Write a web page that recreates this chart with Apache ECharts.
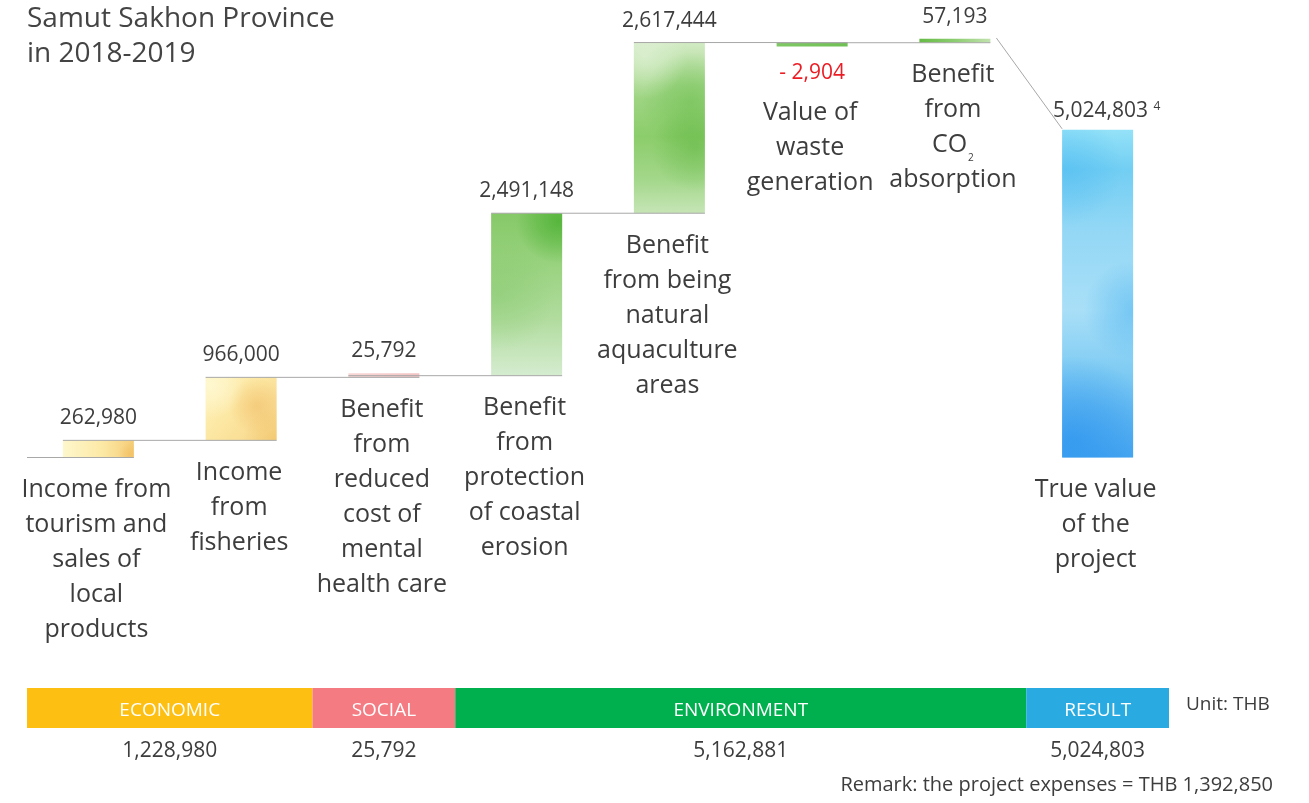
<!DOCTYPE html>
<html>
<head>
<meta charset="utf-8">
<title>Samut Sakhon Province in 2018-2019</title>
<script src="https://cdn.jsdelivr.net/npm/echarts@6/dist/echarts.min.js"></script>
<style>
  html, body { margin: 0; padding: 0; background: #ffffff; }
  #chart { width: 1309px; height: 803px; }
</style>
</head>
<body>
<div id="chart"></div>
<script>
// ---- data -----------------------------------------------------------
const categories = [
  'Income from\ntourism and\nsales of\nlocal\nproducts',
  'Income\nfrom\nfisheries',
  'Benefit\nfrom\nreduced\ncost of\nmental\nhealth care',
  'Benefit\nfrom\nprotection\nof coastal\nerosion',
  'Benefit\nfrom being\nnatural\naquaculture\nareas',
  'Value of\nwaste\ngeneration',
  'Benefit\nfrom\nCO{sub|2}\nabsorption',
  'True value\nof the\nproject'
];
const changes = [262980, 966000, 25792, 2491148, 2617444, -2904, 57193];
const trueValue = 5024803;
const projectExpenses = 1392850;

const groupNames = ['ECONOMIC', 'SOCIAL', 'ENVIRONMENT', 'RESULT'];
const groupFirst = [0, 2, 3, 7];
const groupLast = [1, 2, 6, 7];
const groupTotals = [1228980, 25792, 5162881, 5024803];

// ---- running totals for the waterfall --------------------------------
const starts = [];
const ends = [];
let running = 0;
changes.forEach(function (c) {
  starts.push(running);
  running += c;
  ends.push(running);
});
starts.push(0);
ends.push(trueValue);
const peak = Math.max.apply(null, ends);

const stepData = categories.map(function (_, i) { return [i, starts[i], ends[i]]; });
const groupData = groupNames.map(function (_, g) { return [groupFirst[g], groupLast[g], groupTotals[g]]; });

// ---- styling ---------------------------------------------------------
const FONT = '"Open Sans", "Noto Sans", sans-serif';
const TEXT = '#3d3d3d';
const LINE = '#a8a8a8';
const BAR_W = 71;
const MIN_H = 4;

function lin(x2, y2, stops) {
  return {
    type: 'linear', x: 0, y: 0, x2: x2, y2: y2,
    colorStops: stops.map(function (s) { return { offset: s[0], color: s[1] }; })
  };
}
// watercolour-like fills: a base wash plus soft blotches [x, y, r, r, g, b, alpha]
const paints = [
  { base: lin(1, 0, [[0, '#fef7cc'], [0.55, '#fce9a6'], [1, '#f5cd78']]),
    spots: [[0.95, 0.8, 0.7, 240, 180, 80, 0.45]] },
  { base: lin(1, 1, [[0, '#fff5c2'], [0.45, '#fce7a2'], [1, '#f6d489']]),
    spots: [[0.72, 0.45, 0.45, 238, 178, 88, 0.45], [0.98, 0.98, 0.5, 240, 190, 90, 0.45], [0.1, 0.15, 0.5, 255, 250, 220, 0.6]] },
  { base: lin(1, 0, [[0, '#f8d6d5'], [1, '#f3c3c3']]),
    spots: [] },
  { base: lin(0, 1, [[0, '#86c968'], [0.3, '#98d27e'], [0.65, '#b1dc9e'], [1, '#d5ecd0']]),
    spots: [[0.95, 0.05, 0.6, 70, 175, 45, 0.75], [0.1, 0.5, 0.8, 120, 195, 95, 0.35]] },
  { base: lin(0, 1, [[0, '#d2eac4'], [0.25, '#a4d78a'], [0.55, '#8ccd6b'], [0.8, '#a3d78a'], [1, '#c6e5b6']]),
    spots: [[0.8, 0.35, 0.7, 95, 185, 65, 0.45], [0.85, 0.62, 0.6, 90, 180, 60, 0.45], [0.15, 0.08, 0.6, 230, 244, 222, 0.6]] },
  { base: lin(1, 0, [[0, '#7fc865'], [1, '#6fc054']]),
    spots: [] },
  { base: lin(1, 0, [[0, '#66bb45'], [0.5, '#8ccd70'], [1, '#c2e2ae']]),
    spots: [] },
  { base: lin(0, 1, [[0, '#94e2f8'], [0.12, '#72cef3'], [0.3, '#92d7f5'], [0.55, '#a9dff7'], [0.75, '#7ccaf3'], [1, '#4aa8f0']]),
    spots: [[0.15, 0.95, 1.2, 40, 145, 238, 0.65], [1.0, 0.55, 0.7, 55, 170, 240, 0.45], [0.05, 0.12, 0.8, 55, 175, 240, 0.35]] }
];
const groupColors = ['#fdbf12', '#f47b82', '#00b04f', '#29abe2'];

const fmt = function (v) { return Math.abs(v).toLocaleString('en-US'); };

function blotch(sp) {
  const rgb = sp[3] + ',' + sp[4] + ',' + sp[5];
  return {
    type: 'radial', x: sp[0], y: sp[1], r: sp[2],
    colorStops: [
      { offset: 0, color: 'rgba(' + rgb + ',' + sp[6] + ')' },
      { offset: 0.5, color: 'rgba(' + rgb + ',' + (sp[6] * 0.55) + ')' },
      { offset: 1, color: 'rgba(' + rgb + ',0)' }
    ]
  };
}

// ---- waterfall steps -------------------------------------------------
function renderStep(params, api) {
  const i = api.value(0);
  const s = api.value(1);
  const e = api.value(2);
  const band = api.size([1, 0])[0];
  const pS = api.coord([i, s]);
  const pE = api.coord([i, e]);
  const cx = pS[0];
  const left = cx - BAR_W / 2;
  const right = cx + BAR_W / 2;
  let top = Math.min(pS[1], pE[1]);
  let bottom = Math.max(pS[1], pE[1]);
  if (bottom - top < MIN_H) {
    if (e >= s) top = bottom - MIN_H; else bottom = top + MIN_H;
  }
  const last = i === categories.length - 1;
  const shape = { x: left, y: top, width: BAR_W, height: bottom - top };
  const children = [{ type: 'rect', shape: shape, style: { fill: paints[i].base } }];
  paints[i].spots.forEach(function (sp) {
    children.push({ type: 'rect', shape: shape, style: { fill: blotch(sp) } });
  });

  // connector at the level where this step starts
  if (!last) {
    const x0 = i === 0 ? cx - band / 2 : cx - band - BAR_W / 2;
    children.push({ type: 'line', shape: { x1: x0, y1: pS[1], x2: right, y2: pS[1] },
      style: { stroke: LINE, lineWidth: 1 } });
  } else {
    const prevTop = api.coord([i - 1, ends[i - 1]])[1] - 1;
    children.push({ type: 'line', shape: { x1: cx - band + BAR_W / 2 + 6, y1: prevTop, x2: left, y2: top - 1 },
      style: { stroke: LINE, lineWidth: 1 } });
  }

  // value label
  if (last) {
    children.push({ type: 'text', x: cx + 9, y: top - 19,
      style: { text: fmt(e) + ' {sup|4}', fill: TEXT, fontSize: 21, fontFamily: FONT,
        align: 'center', verticalAlign: 'middle',
        rich: { sup: { fontSize: 12, fill: TEXT, fontFamily: FONT, verticalAlign: 'top', padding: [0, 0, 8, 0] } } } });
  } else if (e >= s) {
    children.push({ type: 'text', x: cx, y: top - 22,
      style: { text: fmt(e - s), fill: TEXT, fontSize: 21, fontFamily: FONT, align: 'center', verticalAlign: 'middle' } });
  } else {
    children.push({ type: 'text', x: cx, y: bottom + 26,
      style: { text: '- ' + fmt(e - s), fill: '#ec1c24', fontSize: 21, fontFamily: FONT, align: 'center', verticalAlign: 'middle' } });
  }

  // category name under the bar
  children.push({ type: 'text', x: cx - 2, y: bottom + (e >= s ? 15 : 49),
    style: { text: categories[i], fill: TEXT, fontSize: 25, fontFamily: FONT, lineHeight: 35,
      align: 'center', verticalAlign: 'top',
      rich: { sub: { fontSize: 10, fill: TEXT, fontFamily: FONT, verticalAlign: 'bottom', lineHeight: 35, padding: [0, 0, 0, 1] } } } });

  return { type: 'group', children: children };
}

// ---- group strip along the bottom ------------------------------------
function renderGroup(params, api) {
  const g = params.dataIndex;
  const band = api.size([1, 0])[0];
  const a = api.coord([api.value(0), 1]);
  const b = api.coord([api.value(1), 0]);
  const x0 = a[0] - band / 2;
  const x1 = b[0] + band / 2;
  return {
    type: 'group',
    children: [
      { type: 'rect', shape: { x: x0, y: a[1], width: x1 - x0, height: b[1] - a[1] },
        style: { fill: groupColors[g] } },
      { type: 'text', x: (x0 + x1) / 2, y: (a[1] + b[1]) / 2 + 3,
        style: { text: groupNames[g], fill: '#ffffff', fontSize: 19, fontFamily: FONT, align: 'center', verticalAlign: 'middle' } },
      { type: 'text', x: (x0 + x1) / 2, y: b[1] + 23,
        style: { text: fmt(api.value(2)), fill: TEXT, fontSize: 21, fontFamily: FONT, align: 'center', verticalAlign: 'middle' } }
    ]
  };
}

const chart = echarts.init(document.getElementById('chart'), null, { renderer: 'canvas' });
chart.setOption({
  animation: false,
  backgroundColor: '#ffffff',
  grid: [
    { left: 27, width: 1142, top: 39, bottom: 345.5 },
    { left: 27, width: 1142, top: 688, height: 40 }
  ],
  xAxis: [
    { type: 'category', gridIndex: 0, data: categories, show: false },
    { type: 'category', gridIndex: 1, data: categories, show: false }
  ],
  yAxis: [
    { type: 'value', gridIndex: 0, min: 0, max: peak, show: false, splitLine: { show: false } },
    { type: 'value', gridIndex: 1, min: 0, max: 1, show: false, splitLine: { show: false } }
  ],
  graphic: [
    { type: 'text', left: 27, top: 2,
      style: { text: 'Samut Sakhon Province\nin 2018-2019', fill: '#444444', fontSize: 28, lineHeight: 35, fontFamily: FONT } },
    { type: 'text', left: 1186, top: 695,
      style: { text: 'Unit: THB', fill: TEXT, fontSize: 19, fontFamily: FONT } },
    { type: 'text', right: 36, top: 775,
      style: { text: 'Remark: the project expenses = THB ' + fmt(projectExpenses), fill: TEXT, fontSize: 20, fontFamily: FONT } }
  ],
  series: [
    { type: 'custom', name: 'steps', xAxisIndex: 0, yAxisIndex: 0, data: stepData,
      encode: { x: 0, y: [1, 2] }, renderItem: renderStep, silent: true },
    { type: 'custom', name: 'groups', xAxisIndex: 1, yAxisIndex: 1, data: groupData,
      encode: { x: [0, 1] }, renderItem: renderGroup, silent: true }
  ]
});
</script>
</body>
</html>
